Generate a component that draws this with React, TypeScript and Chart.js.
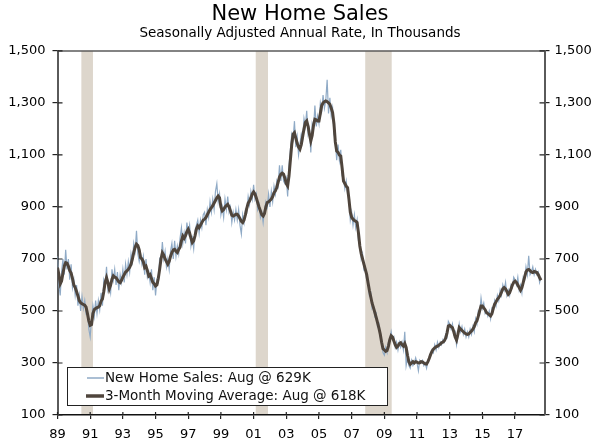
import React, { useEffect, useRef } from 'react';
import Chart from 'chart.js/auto';

const FONT = '"DejaVu Sans", Verdana, sans-serif';

const startYear = 1989;

// New home sales, SAAR thousands, one row per year (Jan..Dec), last row ends Aug 2018
const salesByYear: number[][] = [
  [710, 600, 560, 650, 700, 640, 735, 660, 700, 620, 680, 590],
  [620, 560, 600, 520, 560, 500, 555, 510, 540, 490, 500, 430],
  [400, 470, 520, 480, 540, 490, 540, 505, 570, 520, 620, 600],
  [670, 580, 600, 570, 660, 620, 660, 600, 650, 580, 640, 610],
  [660, 610, 680, 640, 690, 650, 720, 690, 760, 730, 808, 720],
  [690, 720, 680, 710, 640, 700, 630, 650, 610, 660, 580, 630],
  [560, 620, 610, 700, 690, 765, 700, 730, 670, 700, 660, 730],
  [760, 700, 770, 710, 750, 720, 780, 820, 760, 800, 760, 840],
  [800, 830, 750, 780, 740, 810, 830, 850, 800, 850, 820, 870],
  [880, 830, 890, 860, 920, 880, 930, 890, 960, 990, 920, 950],
  [870, 900, 860, 930, 890, 940, 880, 900, 840, 880, 850, 890],
  [850, 890, 830, 796, 870, 840, 890, 880, 940, 910, 960, 930],
  [985, 930, 950, 890, 910, 860, 880, 840, 890, 920, 900, 950],
  [900, 960, 920, 980, 950, 1000, 980, 1060, 1000, 1060, 1000, 990],
  [1010, 940, 1060, 1120, 1180, 1160, 1230, 1130, 1170, 1100, 1140, 1180],
  [1160, 1240, 1210, 1270, 1180, 1200, 1110, 1220, 1200, 1290, 1210, 1250],
  [1220, 1300, 1270, 1330, 1280, 1310, 1389, 1260, 1320, 1250, 1280, 1180],
  [1160, 1080, 1140, 1080, 1120, 1020, 1010, 970, 1000, 950, 940, 850],
  [880, 830, 870, 820, 850, 770, 760, 700, 720, 660, 670, 620],
  [620, 560, 570, 510, 520, 480, 490, 440, 450, 400, 390, 340],
  [330, 360, 340, 380, 390, 420, 390, 400, 360, 380, 350, 380],
  [360, 380, 350, 420, 290, 320, 290, 280, 310, 290, 300, 320],
  [300, 270, 310, 300, 310, 290, 300, 280, 310, 320, 330, 350],
  [340, 370, 350, 380, 360, 380, 370, 390, 380, 410, 400, 460],
  [450, 430, 450, 410, 420, 370, 400, 450, 420, 440, 410, 430],
  [400, 420, 400, 430, 410, 440, 420, 470, 450, 500, 490, 550],
  [510, 530, 490, 500, 480, 500, 470, 510, 500, 540, 520, 560],
  [540, 580, 560, 600, 580, 610, 560, 580, 560, 600, 590, 630],
  [620, 600, 630, 580, 600, 570, 630, 620, 670, 640, 712, 640],
  [650, 670, 640, 660, 640, 650, 610, 629],
];

// 3-month moving average
const movingAvgByYear: number[][] = [
  [667, 640, 604, 615, 645, 672, 686, 684, 672, 655, 646, 625],
  [600, 590, 575, 558, 540, 532, 528, 525, 522, 515, 490, 462],
  [445, 448, 490, 505, 510, 513, 515, 520, 538, 546, 575, 610],
  [628, 610, 585, 600, 622, 635, 630, 628, 620, 612, 609, 618],
  [630, 640, 650, 654, 660, 668, 680, 700, 725, 745, 757, 752],
  [735, 705, 700, 690, 667, 672, 655, 635, 640, 625, 610, 605],
  [596, 600, 625, 660, 700, 724, 715, 700, 690, 680, 690, 710],
  [725, 735, 737, 730, 725, 737, 745, 770, 788, 780, 790, 805],
  [814, 800, 780, 763, 770, 790, 815, 827, 820, 830, 840, 850],
  [853, 860, 870, 880, 890, 897, 905, 915, 925, 935, 942, 935],
  [900, 885, 890, 900, 905, 910, 900, 885, 868, 865, 868, 872],
  [872, 865, 855, 845, 840, 850, 870, 895, 915, 923, 935, 950],
  [958, 950, 935, 917, 900, 885, 870, 865, 875, 900, 917, 920],
  [925, 930, 940, 955, 962, 975, 995, 1015, 1026, 1030, 1026, 1010],
  [990, 981, 1020, 1080, 1140, 1180, 1186, 1165, 1145, 1130, 1122, 1140],
  [1170, 1200, 1225, 1231, 1210, 1180, 1154, 1175, 1215, 1237, 1235, 1231],
  [1231, 1260, 1290, 1300, 1305, 1308, 1305, 1300, 1295, 1280, 1263, 1220],
  [1150, 1115, 1110, 1100, 1096, 1050, 1000, 990, 980, 974, 930, 880],
  [860, 853, 848, 845, 840, 800, 750, 720, 700, 680, 660, 641],
  [610, 580, 555, 530, 513, 495, 475, 455, 435, 411, 380, 355],
  [350, 345, 348, 365, 390, 405, 400, 385, 370, 360, 365, 375],
  [378, 370, 365, 375, 360, 330, 305, 295, 300, 305, 300, 305],
  [303, 300, 301, 305, 304, 300, 297, 296, 305, 318, 333, 345],
  [353, 358, 362, 365, 368, 372, 378, 380, 385, 395, 415, 442],
  [445, 440, 436, 420, 400, 388, 410, 436, 430, 425, 420, 415],
  [412, 410, 412, 418, 423, 430, 440, 455, 462, 480, 500, 519],
  [519, 512, 505, 494, 490, 486, 481, 490, 510, 526, 535, 545],
  [551, 560, 572, 585, 590, 585, 575, 564, 570, 585, 600, 610],
  [615, 610, 600, 590, 580, 590, 610, 630, 650, 658, 660, 655],
  [650, 648, 652, 650, 648, 640, 628, 618],
];

// recession shading, in fractional years
const recessions: [number, number][] = [
  [1990.46, 1991.17],
  [2001.13, 2001.88],
  [2007.83, 2009.45],
];

const xTicks = [1989, 1991, 1993, 1995, 1997, 1999, 2001, 2003, 2005, 2007, 2009, 2011, 2013, 2015, 2017];
const yTicks = [100, 300, 500, 700, 900, 1100, 1300, 1500];
const legendLabels = ['New Home Sales: Aug @ 629K', '3-Month Moving Average: Aug @ 618K'];

const RAW_COLOR = '#8FAAC6';
const MA_COLOR = '#4F453C';
const AXIS_GRAY = '#5A5A5A';

function toPoints(rows: number[][]) {
  const pts: { x: number; y: number }[] = [];
  rows.forEach((row, yi) => row.forEach((v, m) => pts.push({ x: startYear + yi + m / 12, y: v })));
  return pts;
}

const decor = {
  id: 'decor',
  beforeDraw(chart: any) {
    const { ctx, chartArea: a, scales } = chart;
    const x = scales.x;
    ctx.save();
    ctx.fillStyle = '#DDD6CC';
    recessions.forEach(([s, e]) => {
      const x0 = x.getPixelForValue(s);
      const x1 = x.getPixelForValue(e);
      ctx.fillRect(x0, a.top, x1 - x0, a.bottom - a.top);
    });
    ctx.restore();
  },
  afterDraw(chart: any) {
    const { ctx, chartArea: a, scales } = chart;
    ctx.save();
    // top border
    ctx.strokeStyle = AXIS_GRAY;
    ctx.lineWidth = 1.5;
    ctx.beginPath();
    ctx.moveTo(a.left, a.top);
    ctx.lineTo(a.right, a.top);
    ctx.stroke();
    // inner tick marks
    ctx.lineWidth = 1.2;
    ctx.strokeStyle = '#222';
    yTicks.forEach((v) => {
      const py = scales.y.getPixelForValue(v);
      ctx.beginPath();
      ctx.moveTo(a.left, py);
      ctx.lineTo(a.left + 5, py);
      ctx.moveTo(a.right, py);
      ctx.lineTo(a.right - 5, py);
      ctx.stroke();
    });
    xTicks.forEach((v) => {
      const px = scales.x.getPixelForValue(v);
      ctx.beginPath();
      ctx.moveTo(px, a.bottom);
      ctx.lineTo(px, a.bottom - 3);
      ctx.stroke();
    });
    // legend box
    const bx = 67, by = 367, bw = 320, bh = 38;
    ctx.fillStyle = '#fff';
    ctx.fillRect(bx, by, bw, bh);
    ctx.strokeStyle = '#222';
    ctx.lineWidth = 1;
    ctx.strokeRect(bx + 0.5, by + 0.5, bw, bh);
    const rows = [by + 11, by + 29];
    ctx.strokeStyle = RAW_COLOR;
    ctx.lineWidth = 1.5;
    ctx.beginPath();
    ctx.moveTo(87, rows[0]);
    ctx.lineTo(104, rows[0]);
    ctx.stroke();
    ctx.strokeStyle = MA_COLOR;
    ctx.lineWidth = 3.5;
    ctx.beginPath();
    ctx.moveTo(86, rows[1]);
    ctx.lineTo(104, rows[1]);
    ctx.stroke();
    ctx.fillStyle = '#111';
    ctx.font = `13.5px ${FONT}`;
    ctx.textBaseline = 'middle';
    ctx.fillText(legendLabels[0], 105, rows[0]);
    ctx.fillText(legendLabels[1], 105, rows[1]);
    ctx.restore();
  },
};

export default function App() {
  const ref = useRef<HTMLCanvasElement>(null);
  useEffect(() => {
    if (!ref.current) return;
    const yAxis = (position: 'left' | 'right', width: number, pad: number) => ({
      type: 'linear' as const,
      position,
      min: 100,
      max: 1500,
      afterBuildTicks: (s: any) => { s.ticks = yTicks.map((value) => ({ value })); },
      afterFit: (s: any) => { s.width = width; },
      ticks: {
        color: '#000',
        padding: pad,
        font: { family: FONT, size: 13 },
        callback: (v: any) => Number(v).toLocaleString('en-US'),
      },
      grid: { drawOnChartArea: false, drawTicks: true, tickLength: 5, color: '#222', lineWidth: 1.2 },
      border: { color: AXIS_GRAY, width: 2 },
    });
    const chart = new Chart(ref.current, {
      type: 'line',
      data: {
        datasets: [
          { label: legendLabels[0], data: toPoints(salesByYear), borderColor: RAW_COLOR, borderWidth: 1.2, pointRadius: 0, order: 2 },
          { label: legendLabels[1], data: toPoints(movingAvgByYear), borderColor: MA_COLOR, borderWidth: 3, pointRadius: 0, order: 1 },
        ],
      },
      options: {
        animation: false,
        responsive: false,
        layout: { padding: 0 },
        plugins: {
          legend: { display: false },
          tooltip: { enabled: false },
          title: {
            display: true,
            text: 'New Home Sales',
            color: '#000',
            font: { family: FONT, size: 21, weight: 'normal', lineHeight: 1.1 },
            padding: { top: 3, bottom: 0 },
          },
          subtitle: {
            display: true,
            text: 'Seasonally Adjusted Annual Rate, In Thousands',
            color: '#000',
            font: { family: FONT, size: 13.5, weight: 'normal', lineHeight: 1.1 },
            padding: { top: 0, bottom: 10 },
          },
        },
        scales: {
          x: {
            type: 'linear',
            min: 1989,
            max: 2018.8,
            afterBuildTicks: (s: any) => { s.ticks = xTicks.map((value) => ({ value })); },
            afterFit: (s: any) => { s.height = 28; },
            ticks: {
              color: '#000',
              padding: 8,
              font: { family: FONT, size: 13 },
              callback: (v: any) => String(Number(v) % 100).padStart(2, '0'),
            },
            grid: { drawOnChartArea: false, drawTicks: true, tickLength: 4, color: '#222', lineWidth: 1.2 },
            border: { color: '#111', width: 1.5 },
          },
          y: yAxis('left', 57.5, 7),
          y2: yAxis('right', 55.5, 5),
        },
      },
      plugins: [decor],
    });
    return () => chart.destroy();
  }, []);
  return (
    <div style={{ position: 'absolute', left: 0, top: 0, width: 600, height: 443, background: '#fff' }}>
      <canvas ref={ref} width={600} height={443} />
    </div>
  );
}
